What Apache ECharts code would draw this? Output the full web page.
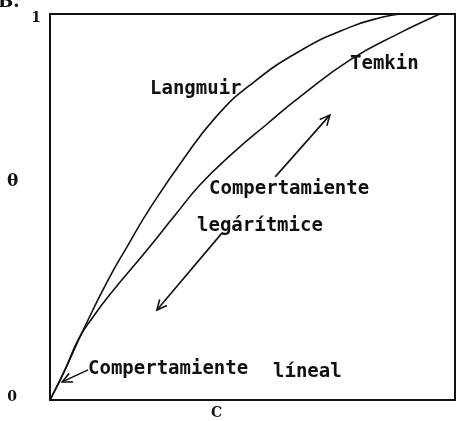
<!DOCTYPE html>
<html>
<head>
<meta charset="utf-8">
<script src="https://cdn.jsdelivr.net/npm/echarts@6/dist/echarts.min.js"></script>
<style>
  html, body { margin: 0; padding: 0; background: #fff; }
  #chart { width: 465px; height: 421px; }
</style>
</head>
<body>
<div id="chart"></div>
<script>
// Adsorption isotherms: fractional coverage θ against concentration C
const langmuirC     = [0, 0.037, 0.081, 0.141, 0.193, 0.247, 0.328, 0.412, 0.494, 0.617, 0.741, 0.822, 0.864];
const langmuirTheta = [0, 0.078, 0.179, 0.306, 0.402, 0.497, 0.622, 0.736, 0.816, 0.904, 0.966, 0.992, 1.000];

const temkinC     = [0, 0.037, 0.070, 0.104, 0.153, 0.235, 0.309, 0.370, 0.452, 0.536, 0.617, 0.741, 0.864, 0.946, 0.963];
const temkinTheta = [0, 0.078, 0.157, 0.212, 0.280, 0.383, 0.479, 0.557, 0.640, 0.715, 0.785, 0.881, 0.951, 0.992, 1.000];

const yTicks = [0, 1];

// Annotation arrows in data space: [from, to]
const arrows = [
  [[0.556, 0.578], [0.691, 0.738]],
  [[0.425, 0.433], [0.264, 0.233]],
  [[0.094, 0.078], [0.030, 0.047]]
];

const TEXT_FONT = 'DejaVu Sans Mono';
const ink = '#111';

const chart = echarts.init(document.getElementById('chart'));

const zip = (xs, ys) => xs.map((x, i) => [x, ys[i]]);

const textStyle = (txt, left, top) => ({
  type: 'text',
  left: left,
  top: top,
  style: { text: txt, fill: ink, font: 'bold 19px "' + TEXT_FONT + '"' }
});

chart.setOption({
  animation: false,
  backgroundColor: '#fff',
  grid: {
    left: 50, top: 14, right: 10, bottom: 21,
    outerBoundsMode: 'none', containLabel: false,
    show: true, borderColor: ink, borderWidth: 2, backgroundColor: 'transparent'
  },
  xAxis: {
    type: 'value', min: 0, max: 1,
    axisLine: { show: false }, axisTick: { show: false },
    axisLabel: { show: false }, splitLine: { show: false },
    name: 'C', nameLocation: 'middle', nameGap: 6, nameMoveOverlap: false,
    nameTextStyle: {
      color: ink, fontFamily: 'DejaVu Serif', fontWeight: 'bold', fontSize: 14,
      padding: [0, 72, 0, 0], verticalAlign: 'top'
    }
  },
  yAxis: {
    type: 'value', min: 0, max: 1, interval: 1,
    axisLine: { show: false }, axisTick: { show: false }, splitLine: { show: false },
    axisLabel: {
      margin: 9,
      formatter: v => yTicks.indexOf(v) === 0 ? '{lo|' + v + '}' : '{hi|' + v + '}',
      rich: {
        lo: { color: ink, fontFamily: 'DejaVu Serif', fontWeight: 'bold', fontSize: 14, padding: [0, 24, 6, 0] },
        hi: { color: ink, fontFamily: 'DejaVu Serif', fontWeight: 'bold', fontSize: 14, padding: [8, 0, 0, 0] }
      }
    }
  },
  series: [
    {
      name: 'Langmuir', type: 'line', data: zip(langmuirC, langmuirTheta),
      smooth: 0.5, showSymbol: false,
      lineStyle: { color: ink, width: 1.6 }
    },
    {
      name: 'Temkin', type: 'line', data: zip(temkinC, temkinTheta),
      smooth: 0.5, showSymbol: false,
      lineStyle: { color: ink, width: 1.6 }
    }
  ]
});

// Open-headed arrows drawn from data coordinates
const arrowGraphics = [];
arrows.forEach(([from, to]) => {
  const p0 = chart.convertToPixel({ gridIndex: 0 }, from);
  const p1 = chart.convertToPixel({ gridIndex: 0 }, to);
  const ang = Math.atan2(p1[1] - p0[1], p1[0] - p0[0]);
  const head = 11, spread = Math.PI / 7;
  const a = [p1[0] - head * Math.cos(ang - spread), p1[1] - head * Math.sin(ang - spread)];
  const b = [p1[0] - head * Math.cos(ang + spread), p1[1] - head * Math.sin(ang + spread)];
  arrowGraphics.push({
    type: 'polyline', shape: { points: [p0, p1] },
    style: { stroke: ink, lineWidth: 1.6, fill: null }
  });
  arrowGraphics.push({
    type: 'polyline', shape: { points: [a, p1, b] },
    style: { stroke: ink, lineWidth: 1.6, fill: null }
  });
});

chart.setOption({
  graphic: arrowGraphics.concat([
    { type: 'text', left: -2, top: -7,
      style: { text: 'B.', fill: ink, font: 'bold 18px "DejaVu Serif"' } },
    // y-axis quantity symbol
    { type: 'text', left: 7, top: 173,
      style: { text: 'θ', fill: ink, font: 'bold 17px "DejaVu Serif"' } },
    textStyle('Langmuir', 150, 80),
    textStyle('Temkin', 350, 55),
    textStyle('Compertamiente', 209, 180),
    textStyle('legárítmice', 197, 217),
    textStyle('Compertamiente', 88, 360),
    textStyle('líneal', 273, 363)
  ])
});
</script>
</body>
</html>
